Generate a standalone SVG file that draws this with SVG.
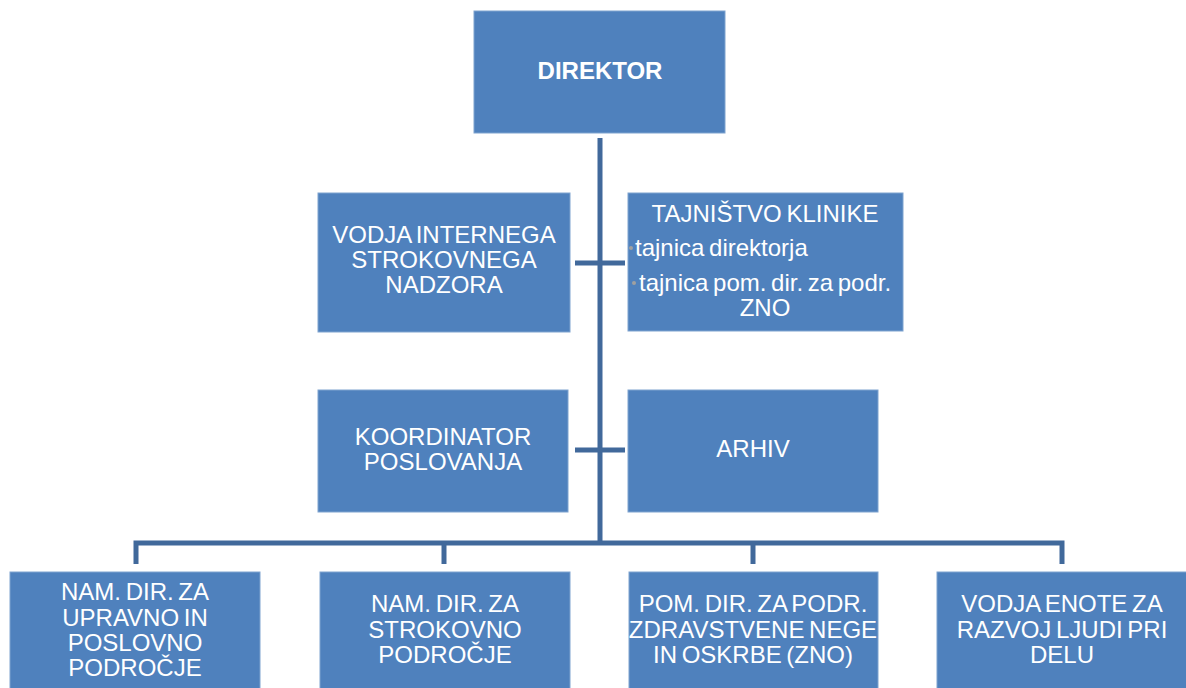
<svg xmlns="http://www.w3.org/2000/svg" width="1186" height="688" viewBox="0 0 1186 688">
<style>
.box{fill:#4F81BD;stroke:#7fa3cf;stroke-width:1}
.t{font-family:"Liberation Sans",Arial,sans-serif;font-size:24px;fill:#ffffff;text-anchor:middle;word-spacing:-2px}
.b{font-weight:bold}
.l{text-anchor:start}
.con{fill:none;stroke:#41699b;stroke-width:5}
</style>
<rect width="1186" height="688" fill="#ffffff"/>
<g id="connectors">
<path class="con" d="M600,138 V543"/>
<path class="con" d="M575,263 H625"/>
<path class="con" d="M575,450 H625"/>
<path class="con" d="M136,564 V543 H1062 V564"/>
<path class="con" d="M444,543 V564"/>
<path class="con" d="M753,543 V564"/>
</g>
<g id="direktor">
<rect class="box" x="474" y="11" width="251" height="122"/>
<text class="t b" x="600" y="79">DIREKTOR</text>
</g>
<g id="vodja-internega">
<rect class="box" x="318" y="193" width="252" height="139"/>
<text class="t" x="444" y="243">VODJA INTERNEGA</text>
<text class="t" x="444" y="268">STROKOVNEGA</text>
<text class="t" x="444" y="293">NADZORA</text>
</g>
<g id="tajnistvo">
<rect class="box" x="628" y="193" width="275" height="138"/>
<text class="t" x="765" y="222">TAJNIŠTVO KLINIKE</text>
<circle cx="631" cy="248" r="2" fill="#a0a0a0"/>
<text class="t l" x="635" y="256">tajnica direktorja</text>
<circle cx="634" cy="283" r="2" fill="#a0a0a0"/>
<text class="t l" x="639" y="291">tajnica pom. dir. za podr.</text>
<text class="t" x="765" y="316">ZNO</text>
</g>
<g id="koordinator">
<rect class="box" x="318" y="390" width="250" height="122"/>
<text class="t" x="443" y="445">KOORDINATOR</text>
<text class="t" x="443" y="470">POSLOVANJA</text>
</g>
<g id="arhiv">
<rect class="box" x="628" y="390" width="250" height="122"/>
<text class="t" x="753" y="457">ARHIV</text>
</g>
<g id="nam-dir-upravno">
<rect class="box" x="10" y="572" width="250" height="120"/>
<text class="t" x="135" y="600">NAM. DIR. ZA</text>
<text class="t" x="135" y="626">UPRAVNO IN</text>
<text class="t" x="135" y="651">POSLOVNO</text>
<text class="t" x="135" y="676">PODROČJE</text>
</g>
<g id="nam-dir-strokovno">
<rect class="box" x="320" y="572" width="250" height="120"/>
<text class="t" x="445" y="612">NAM. DIR. ZA</text>
<text class="t" x="445" y="638">STROKOVNO</text>
<text class="t" x="445" y="663">PODROČJE</text>
</g>
<g id="pom-dir-zno">
<rect class="box" x="629" y="572" width="249" height="120"/>
<text class="t" x="753" y="612">POM. DIR. ZA PODR.</text>
<text class="t" x="753" y="638">ZDRAVSTVENE NEGE</text>
<text class="t" x="753" y="663">IN OSKRBE (ZNO)</text>
</g>
<g id="vodja-enote">
<rect class="box" x="937" y="572" width="252" height="120"/>
<text class="t" x="1062" y="612">VODJA ENOTE ZA</text>
<text class="t" x="1062" y="638">RAZVOJ LJUDI PRI</text>
<text class="t" x="1062" y="663">DELU</text>
</g>
</svg>
